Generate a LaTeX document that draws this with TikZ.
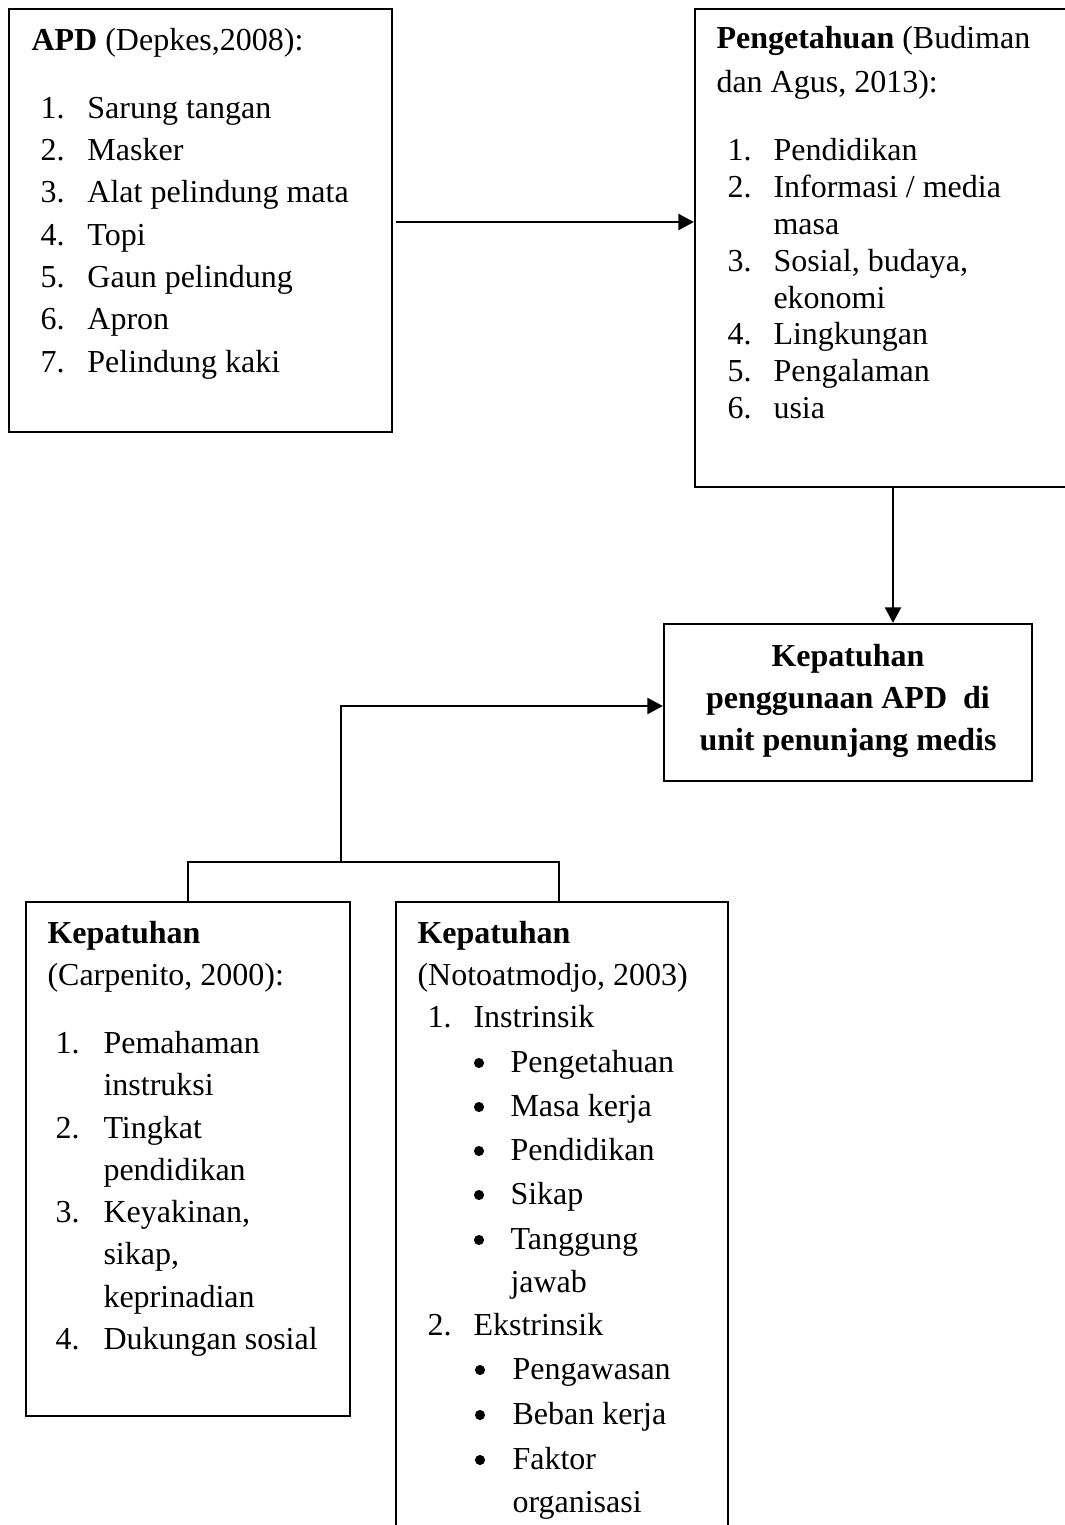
\documentclass[tikz,border=0pt]{standalone}
\usepackage{fontspec}
\setmainfont{Liberation Serif}
\usetikzlibrary{arrows.meta}
\tikzset{
  box/.style={draw, line width=0.85pt, inner sep=0pt},
  txt/.style={anchor=base west, inner sep=0pt, font=\fontsize{12}{15}\selectfont},
  ctxt/.style={anchor=base, inner sep=0pt, font=\fontsize{12}{15}\selectfont\bfseries},
  bul/.style={circle, fill=black, inner sep=0pt, minimum size=3.8pt},
  conn/.style={line width=0.85pt},
  arr/.style={conn, -{Triangle[length=5.8pt,width=6pt]}}
}
\newcommand{\nb}[2]{\makebox[#1][l]{#2}}
\begin{document}
\begin{tikzpicture}[x=0.375pt, y=-0.375pt]
\useasboundingbox (0,0) rectangle (1065,1525);
\clip (0,0) rectangle (1065,1525);
% boxes
\node[box, minimum width=143.6pt, minimum height=158.6pt] (apd) at (200.5,220.5) {};
\node[box, minimum width=142.5pt, minimum height=179.25pt] (peng) at (885,248) {};
\node[box, minimum width=138pt, minimum height=58.9pt] (kep) at (848,702.5) {};
\node[box, minimum width=121.5pt, minimum height=192.75pt] (carp) at (188,1159) {};
\node[box, minimum width=124.5pt, minimum height=239.25pt] (noto) at (562,1221) {};
% APD text
\node[txt] (a0) at (31,50) {\textbf{APD} (Depkes,2008):};
\node[txt] (a1) at (40,118) {\nb{17.6pt}{1.}Sarung tangan};
\node[txt] (a2) at (40,160) {\nb{17.6pt}{2.}Masker};
\node[txt] (a3) at (40,202) {\nb{17.6pt}{3.}Alat pelindung mata};
\node[txt] (a4) at (40,245) {\nb{17.6pt}{4.}Topi};
\node[txt] (a5) at (40,287) {\nb{17.6pt}{5.}Gaun pelindung};
\node[txt] (a6) at (40,329) {\nb{17.6pt}{6.}Apron};
\node[txt] (a7) at (40,372) {\nb{17.6pt}{7.}Pelindung kaki};
% Pengetahuan text
\node[txt] (p0) at (716,48) {\textbf{Pengetahuan} (Budiman};
\node[txt] (p0b) at (716,92) {dan Agus, 2013):};
\node[txt] (p1) at (727,160) {\nb{17.25pt}{1.}Pendidikan};
\node[txt] (p2) at (727,197) {\nb{17.25pt}{2.}Informasi / media};
\node[txt] (p2b) at (773,234) {masa};
\node[txt] (p3) at (727,271) {\nb{17.25pt}{3.}Sosial, budaya,};
\node[txt] (p3b) at (773,308) {ekonomi};
\node[txt] (p4) at (727,344) {\nb{17.25pt}{4.}Lingkungan};
\node[txt] (p5) at (727,381) {\nb{17.25pt}{5.}Pengalaman};
\node[txt] (p6) at (727,418) {\nb{17.25pt}{6.}usia};
% Kepatuhan center
\node[ctxt] (k1) at (848,666) {Kepatuhan};
\node[ctxt] (k2) at (848,708) {penggunaan APD\ \ di};
\node[ctxt] (k3) at (848,750) {unit penunjang medis};
% Carpenito
\node[txt] (c0) at (47,943) {\textbf{Kepatuhan}};
\node[txt] (c0b) at (47,985) {(Carpenito, 2000):};
\node[txt] (c1) at (55,1053) {\nb{18pt}{1.}Pemahaman};
\node[txt] (c1b) at (103,1095) {instruksi};
\node[txt] (c2) at (55,1138) {\nb{18pt}{2.}Tingkat};
\node[txt] (c2b) at (103,1180) {pendidikan};
\node[txt] (c3) at (55,1222) {\nb{18pt}{3.}Keyakinan,};
\node[txt] (c3b) at (103,1264) {sikap,};
\node[txt] (c3c) at (103,1307) {keprinadian};
\node[txt] (c4) at (55,1349) {\nb{18pt}{4.}Dukungan sosial};
% Notoatmodjo
\node[txt] (n0) at (417,943) {\textbf{Kepatuhan}};
\node[txt] (n0b) at (417,985) {(Notoatmodjo, 2003)};
\node[txt] (n1) at (427,1027) {\nb{17.25pt}{1.}Instrinsik};
\node[bul] (d1) at (479,1063) {};
\node[txt] (b1) at (510,1072) {Pengetahuan};
\node[bul] (d2) at (479,1107) {};
\node[txt] (b2) at (510,1116) {Masa kerja};
\node[bul] (d3) at (479,1151) {};
\node[txt] (b3) at (510,1160) {Pendidikan};
\node[bul] (d4) at (479,1195) {};
\node[txt] (b4) at (510,1204) {Sikap};
\node[bul] (d5) at (479,1240) {};
\node[txt] (b5) at (510,1249) {Tanggung};
\node[txt] (b5b) at (510,1292) {jawab};
\node[txt] (n2) at (427,1335) {\nb{17.25pt}{2.}Ekstrinsik};
\node[bul] (f1) at (480,1370) {};
\node[txt] (e1) at (512,1379) {Pengawasan};
\node[bul] (f2) at (480,1415) {};
\node[txt] (e2) at (512,1424) {Beban kerja};
\node[bul] (f3) at (480,1460) {};
\node[txt] (e3) at (512,1469) {Faktor};
\node[txt] (e3b) at (512,1512) {organisasi};
% connectors
\coordinate (ya) at (0,222);
\coordinate (kx) at (893,0);
\coordinate (yk) at (0,706);
\coordinate (j) at (341,862);
\coordinate (rx) at (559,0);
\draw[arr] ([xshift=1pt]apd.east |- ya) -- (peng.west |- ya);
\draw[arr] (peng.south -| kx) -- (kep.north -| kx);
\draw[arr] (j) |- (kep.west |- yk);
\draw[conn] (carp.north) |- (j) -| (noto.north -| rx);
\end{tikzpicture}
\end{document}
